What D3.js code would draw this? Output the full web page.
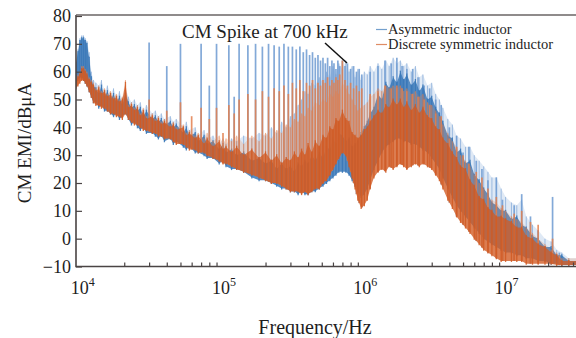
<!DOCTYPE html>
<html>
<head>
<meta charset="utf-8">
<script src="https://cdn.jsdelivr.net/npm/d3@7"></script>
<style>
body{margin:0;background:#fff}
svg{display:block}
text{font-family:"Liberation Serif","Times New Roman",serif;fill:#1e1e1e}
</style>
</head>
<body>
<svg id="chart"></svg>
<script>
var w = 576, h = 338;

// noise band of each trace, frequencies in kHz, levels in dBuA
var bandKHz = [9.1,9.4,9.7,10,10.3,10.6,10.9,11.3,11.7,12.1,12.6,13.2,13.8,14.5,15.2,16,16.8,17.6,18.5,19.4,
  20.4,21.4,22.5,23.6,24.8,26,27.3,28.7,31.6,33.2,34.9,36.6,38.5,42.4,44.5,46.7,52.4,55,57.8,63.6,
  66.8,73.5,77.2,85,94,100,105,115,125,140,160,180,200,220,240,260,280,300,320,340,
  360,380,400,425,450,480,510,540,570,600,630,660,700,740,780,820,860,900,950,1000,
  1050,1100,1170,1250,1330,1420,1500,1600,1700,1800,1900,2000,2150,2300,2450,2600,2800,3000,3200,3400,
  3600,3900,4200,4500,4800,5200,5600,6000,6500,7000,7500,8000,8600,9300,10000,11000,12000,13000,14000,15500,
  17000,19000,21000,23000,25000,28000,32000];
var blueLo = [56,57,58,58,57,56,55,53,51,49,49,47,48,46,46,45,44,45,43,44,
  45,43,41,42,40,39,40,38,38,37,36,37,35,36,34,35,33,32,33,31,
  31,30,29,29,27,28,26,25,25,24,22,21,21,20,19,18,18,17,17,16,
  17,16,16,17,17,18,19,20,21,22,23,24,24,24,23,21,19,17,15,16,
  18,21,25,28,31,33,34,35,36,36,35,35,34,34,33,32,31,29,27,25,
  22,18,15,12,10,8,6,4,2,0,-1,-2,-3,-4,-5,-5,-6,-6,-7,-7,
  -8,-8,-9,-9,-9.5,-9.5,-9.5];
var blueHi = [63,67,71,72,72,71,70,65,58,55,54,52,55,51,53,50,52,49,51,48,
  52,49,47,48,46,47,44,46,43,44,42,43,41,42,40,41,38,40,37,38,
  35,37,34,35,32,34,31,32,30,31,28,29,27,28,25,27,25,26,24,27,
  26,28,27,30,28,31,29,33,32,36,34,38,37,35,36,33,34,35,38,40,
  42,45,47,52,50,56,54,58,56,60,57,59,55,57,53,55,50,51,47,45,
  42,37,36,31,32,27,28,23,21,18,16,13,12,10,10,7,8,5,4,1,
  0,-3,-3,-6,-6,-8,-8];
var blueEnv = [64,68,72,73,73,72,71,67,60,57,56,55,57,53,55,52,54,51,53,50,
  54,51,49,50,48,49,46,48,45,46,44,45,43,44,42,43,40,42,39,40,
  37,39,36,37,34,36,34,36,35,37,36,38,37,40,38,42,40,44,45,48,
  50,53,52,56,55,58,56,60,58,62,59,63,61,64,60,62,58,61,57,60,
  59,62,60,63,61,64,62,65,63,64,62,63,60,62,58,59,55,56,52,50,
  47,43,41,37,36,33,33,30,28,26,24,22,22,18,15,13,12,14,8,5,
  3,0,-1,-4,-5,-7,-7];
var orangeLo = [54,55,56,57,57,56,55,53,51,49,48,48,47,47,46,45,45,44,44,43,
  45,43,42,41,41,40,39,39,38,38,37,37,36,36,35,34,34,33,32,32,
  31,31,30,29,28,27,27,26,25,24,23,22,21,20,20,19,18,17,17,17,
  16,17,16,17,18,18,20,21,23,25,27,29,31,30,26,22,18,14,11,12,
  14,18,22,24,25,24,26,25,26,27,26,25,26,27,26,27,26,25,23,21,
  18,14,11,8,6,4,2,0,-2,-4,-5,-6,-7,-8,-8,-8,-8,-8,-9,-9,
  -9,-9,-9,-9.5,-9.5,-9.5,-9.5];
var orangeHi = [57,58,59,61,61,60,59,57,56,55,53,54,52,53,51,52,50,51,49,50,
  56,47,48,46,47,44,46,43,44,42,43,41,42,40,41,39,40,37,38,36,
  37,34,36,33,35,32,33,31,33,30,32,29,31,28,30,27,29,28,31,29,
  32,30,34,31,35,33,37,36,40,39,43,42,46,43,42,38,37,36,37,39,
  40,42,44,46,45,48,47,50,48,50,47,49,46,48,45,47,44,43,40,39,
  36,34,31,29,26,25,21,19,15,14,11,10,8,8,7,6,4,4,1,0,
  -2,-3,-5,-6,-8,-8,-8];
var orangeEnv = [58,59,60,62,62,61,60,58,57,56,54,55,53,54,52,53,51,52,50,51,
  57,48,49,47,48,45,47,44,45,43,44,42,43,41,42,40,41,38,39,37,
  38,36,38,35,37,34,36,35,37,34,37,35,38,36,39,38,41,40,43,42,
  45,44,47,46,49,48,50,49,52,51,53,52,56,54,52,50,48,46,47,48,
  49,51,52,54,53,55,54,55,54,55,53,54,52,53,51,52,49,48,46,44,
  41,38,35,33,30,28,26,23,20,18,15,14,13,11,10,8,7,6,4,2,
  0,-2,-4,-5,-7,-7,-7];

// harmonic spikes: frequency (kHz) and peak level of each trace
var spikeKHz = [30,40,50,60,70,80,90,100,110,120,130,150,170,190,210,230,250,270,290,310,
  330,350,370,390,410,430,450,470,490,510,530,550,570,590,610,630,650,670,700,730,
  760,800,840,880,920,960,1100,1250,1400,1550,1700,1850,2000,2200,2400,2650,2900,3200,3500,4000,
  4500,5000,5500,6200,6800,7500,8600,9500,11500,13000,15000,17000,21500,24000];
var spikeBlue = [70.5,62,70,null,70,55,70,null,69.5,51,70,69.5,70,69,70,69.5,69,70,69,69,
  68,69,67,68,66,67,65,66,64,65,63,65,62,64,63,61,64,62,64,62,
  63,61,62,60,61,59,60,62,64,63,65,62,61,61,58,55,54,50,48,40,
  37,31,33,28,25,21,22,14,12,16,8,3,15,-5];
var spikeOrange = [50,46,49,44,47,43,47,38,48,45,50,52,50,53,51,54,53,55,52,56,
  54,57,53,56,55,57,54,56,55,57,56,58,55,57,56,58,57,59,64,57,
  55,56,54,55,53,54,52,53,55,54,55,54,53,52,51,50,48,45,44,36,
  33,30,27,24,22,18,15,12,9,10,6,5,0,-6];

var yTicks = [-10,0,10,20,30,40,50,60,70,80];
var xMajor = [1e4,1e5,1e6,1e7];
var seriesNames = ["Asymmetric inductor","Discrete symmetric inductor"];
var colors = {blue:"#3a78b8", blueSpike:"#6e9bd2", orange:"#d25c25", orangeSpike:"#e3804f"};

var svg = d3.select("#chart").attr("width", w).attr("height", h);

var box = {left:76, right:576, top:15, bottom:266.5};
var x = d3.scaleLog().domain([1e4,1e7]).range([81.7,505.6]);
var y = d3.scaleLinear().domain([-10,80]).range([266.5,16]);

svg.append("clipPath").attr("id","plot")
  .append("rect").attr("x",box.left).attr("y",box.top)
  .attr("width",box.right-box.left).attr("height",box.bottom-box.top);

var plot = svg.append("g").attr("clip-path","url(#plot)");

var bandLog = bandKHz.map(function(d){ return Math.log10(d*1e3); });
function levelAt(lo, f){
  var lf = Math.log10(f);
  var i = d3.bisectRight(bandLog, lf);
  i = Math.max(1, Math.min(bandKHz.length-1, i));
  var t = (lf-bandLog[i-1])/(bandLog[i]-bandLog[i-1]);
  return lo[i-1] + t*(lo[i]-lo[i-1]);
}

function vlines(g, data, y1, y2, col, sw, op){
  g.append("g").selectAll("line").data(data).enter().append("line")
    .attr("x1", function(d){ return x(d.f); })
    .attr("x2", function(d){ return x(d.f); })
    .attr("y1", y1).attr("y2", y2)
    .style("stroke", col).style("stroke-width", sw).style("opacity", op);
}

function drawSeries(lo, hi, env, tops, col, spikeCol, op){
  var band = bandKHz.map(function(f,i){ return {f:f*1e3, lo:lo[i], hi:hi[i], env:env[i]}; });
  // faint forest of smaller spikes above the band
  var haze = d3.area()
    .x(function(d){ return x(d.f); })
    .y0(function(d){ return y(d.hi); })
    .y1(function(d){ return y(d.env); });
  plot.append("path").datum(band).attr("d", haze)
    .style("fill", spikeCol).style("opacity", 0.22);
  vlines(plot, band, function(d){ return y(d.hi); }, function(d){ return y(d.env); }, spikeCol, 1, 0.6);
  // harmonic spikes
  var sp = spikeKHz.map(function(f,i){ return {f:f*1e3, top:tops[i]}; })
    .filter(function(d){ return d.top != null; });
  vlines(plot, sp, function(d){ return y(levelAt(orangeLo, d.f)); }, function(d){ return y(d.top); },
    spikeCol, 1.7, 0.85);
  // dense band
  var area = d3.area()
    .x(function(d){ return x(d.f); })
    .y0(function(d){ return y(d.lo); })
    .y1(function(d){ return y(d.hi); });
  plot.append("path").datum(band).attr("d", area)
    .style("fill", col).style("opacity", op);
  vlines(plot, band, function(d){ return y(d.lo) + 1; }, function(d){ return y(d.hi) - 1; }, col, 1.3, 0.9);
}

drawSeries(blueLo, blueHi, blueEnv, spikeBlue, colors.blue, colors.blueSpike, 0.85);
drawSeries(orangeLo, orangeHi, orangeEnv, spikeOrange, colors.orange, colors.orangeSpike, 0.8);

// axes
var axisCol = "#4a4444";
var minor = [];
[1e4,1e5,1e6,1e7].forEach(function(d){ for (var k=2;k<10;k++) if (d*k < 3.2e7) minor.push(d*k); });

var gx = svg.append("g").attr("transform","translate(0,"+box.bottom+")");
gx.call(d3.axisBottom(x).tickValues(xMajor).tickSize(-6).tickFormat(""));
gx.call(d3.axisBottom(x).tickValues(minor).tickSize(-4).tickFormat(""));
gx.selectAll(".domain").remove();
gx.selectAll("line").style("stroke", axisCol).style("stroke-width", 1.2);

xMajor.forEach(function(v){
  var t = svg.append("text").attr("x", x(v)+1).attr("y", 294)
    .attr("text-anchor","middle").style("font-size","18px");
  t.append("tspan").text("10");
  t.append("tspan").attr("dy",-8).style("font-size","12px").text(Math.log10(v));
});

var gy = svg.append("g").attr("transform","translate("+box.left+",0)");
gy.call(d3.axisLeft(y).tickValues(yTicks).tickSize(-6).tickPadding(5)
  .tickFormat(function(d){ return d < 0 ? "\u2212" + Math.abs(d) : d; }));
gy.selectAll(".domain").remove();
gy.selectAll("line").style("stroke", axisCol).style("stroke-width", 1.2);
gy.selectAll("text").style("font-size","18px").style("font-family","Liberation Serif").style("fill","#1e1e1e");

svg.append("path").attr("d","M"+box.left+","+box.top+"V"+box.bottom+"H"+box.right)
  .style("fill","none").style("stroke",axisCol).style("stroke-width",1.6);
svg.append("line").attr("x1",box.left).attr("x2",box.right).attr("y1",box.top).attr("y2",box.top)
  .style("stroke","#6a6464").style("stroke-width",1.4);

// labels
svg.append("text").attr("x",315).attr("y",334).attr("text-anchor","middle")
  .style("font-size","20px").text("Frequency/Hz");
svg.append("text").attr("transform","translate(31,143) rotate(-90)").attr("text-anchor","middle")
  .style("font-size","19px").text("CM EMI/dBμA");

// annotation
svg.append("text").attr("x",182).attr("y",38).style("font-size","19px").text("CM Spike at 700 kHz");
svg.append("line").attr("x1",325).attr("y1",43).attr("x2",347).attr("y2",63)
  .style("stroke","#111").style("stroke-width",1.5);

// legend
var legend = svg.append("g");
[colors.blue, colors.orange].forEach(function(c,i){
  legend.append("line").attr("x1",376).attr("x2",387).attr("y1",29.5+i*15).attr("y2",29.5+i*15)
    .style("stroke",c).style("stroke-width",1.2).style("opacity",0.7);
  legend.append("text").attr("x",388).attr("y",34+i*15).style("font-size","14.5px").text(seriesNames[i]);
});
</script>
</body>
</html>
